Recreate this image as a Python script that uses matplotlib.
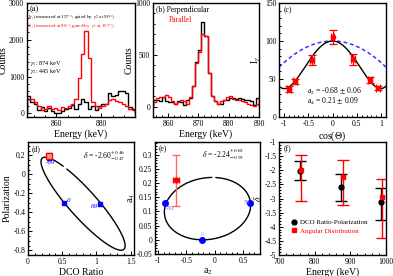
import numpy as np
import matplotlib
matplotlib.use("Agg")
import matplotlib.pyplot as plt
from matplotlib.lines import Line2D

plt.rcParams["font.family"] = ["Liberation Serif", "DejaVu Serif"]
plt.rcParams["mathtext.fontset"] = "stix"

# ---- (a) gated spectra, 1.5 keV bins starting at 847 keV
a_edges_start, a_bin = 847.0, 1.5
a_black = [480, 300, 250, 100, 180, 60, 150, 50, 10, 10, 60, 120, 150, 230, 130, 250,
           400, 300, 120, 200, 100, 200, 250, 250, 550, 480, 500, 600, 600, 550, 180, 120]
a_red = [400, 380, 300, 200, 80, 120, 200, 130, 150, 100, 180, 150, 200, 250, 380, 950,
         1600, 2250, 1500, 300, 200, 150, 200, 250, 350, 380, 330, 300, 250, 200, 120, 100]

# ---- (b) polarization spectra, 1 keV bins starting at 855 keV
b_start = 855
b_perp = [60, 60, 50, 90, 50, 40, 40, 30, 50, 40, 20, 60, 80, 200, 430, 550, 820, 680,
          320, 100, 50, 30, 30, 60, 60, 80, 80, 70, 80, 70, 60, 60, 50, 20, 80]
b_para = [40, 80, 90, 90, 110, 90, 50, 30, 40, 60, 50, 30, 90, 200, 420, 530, 700, 680,
          320, 100, 50, 30, 50, 60, 90, 100, 70, 60, 60, 50, 40, 30, 20, 10, 30]

# ---- (c) angular distribution
c_cos = [-0.89, -0.77, -0.42, 0.0, 0.42, 0.77, 0.93]
c_int = [37, 47, 75, 105, 76, 49, 38]
c_err = [4, 3.5, 6.5, 9, 7, 4, 3]
c_a2, c_a4 = -0.68, 0.21
c_ref_a2, c_ref_a4 = -0.21, 0.0

# ---- (d) DCO ratio vs polarization
d_center = (0.805, -0.31)
d_u = (0.555, -0.49)
d_v = (0.265, 0.0)
d_gap = 141
d_pts_x = [0.30, 0.52, 1.05]
d_pts_y = [0.17, -0.30, -0.31]
d_pts_lab = ["-69", "0", "69"]
d_exp = (0.30, 0.19, 0.02, 0.03)

# ---- (e) a2 vs a4
e_center = (-0.125, 0.11)
e_u = (0.755, 0.0)
e_v = (0.085, 0.11)
e_gap = 88
e_pts_x = [-0.88, 0.63, -0.22]
e_pts_y = [0.13, 0.13, 0.0]
e_pts_lab = ["-50", "50", "0"]
e_exp = (-0.68, 0.21, 0.06, 0.09)

# ---- (f) mixing ratio vs energy
f_e_dco = [758, 875, 985]
f_d_dco = [-2.04, -2.61, -3.11]
f_dco_up = [0.38, 0.46, 0.48]
f_dco_lo = [0.32, 0.49, 0.66]
f_e_ang = [763, 879, 988]
f_d_ang = [-1.98, -2.24, -2.93]
f_ang_up = [0.51, 0.62, 0.61]
f_ang_lo = [1.12, 0.98, 1.46]

tick_fs = 5.5
lab_fs = 7

W, H = 393, 276
fig = plt.figure(figsize=(W / 100, H / 100), dpi=100)


def px_axes(l, t, r, b):
    return fig.add_axes([l / W, (H - b) / H, (r - l) / W, (b - t) / H])


def style(ax):
    ax.tick_params(direction="in", which="both", labelsize=tick_fs, length=3, width=0.7, pad=2)
    ax.tick_params(which="minor", length=1.5)
    ax.tick_params(axis="x", pad=2.5)
    ax.minorticks_on()
    for s in ax.spines.values():
        s.set_linewidth(1.0)


def ellipse(center, u, v, gap):
    t = np.radians(np.linspace(gap + 3, gap + 357, 400))
    x = center[0] + u[0] * np.cos(t) + v[0] * np.sin(t)
    y = center[1] + u[1] * np.cos(t) + v[1] * np.sin(t)
    return x, y


# (a)
ax = px_axes(27, 3, 135, 117)
edges = a_edges_start + a_bin * np.arange(len(a_red) + 1)
ax.stairs(a_black, edges, color="black", lw=1.0)
ax.stairs(a_red, edges, color="red", lw=1.0)
ax.set_xlim(847, 895)
ax.set_ylim(-100, 3000)
ax.set_xticks([860, 880])
ax.set_yticks([0, 1000, 2000, 3000])
style(ax)
ax.set_xlabel("Energy (keV)", fontsize=lab_fs, labelpad=1)
ax.set_ylabel("Counts", fontsize=lab_fs, labelpad=1)
ax.text(0.02, 0.985, "(a)", transform=ax.transAxes, fontsize=6, va="top")
ax.text(0.01, 0.87, r"I$_{\gamma_1}$ (measured at 157 °; gated by  $\gamma_2$ at 90 °)",
        transform=ax.transAxes, fontsize=3.6, va="center")
ax.text(0.01, 0.79, r"I$_{\gamma_1}$ (measured at 90 °; gated by  $\gamma_1$ at 157 °)",
        transform=ax.transAxes, fontsize=3.6, va="center", color="red")
ax.text(0.03, 0.47, r"$\gamma_1$: 874 keV", transform=ax.transAxes, fontsize=4.5, va="center")
ax.text(0.03, 0.40, r"$\gamma_2$: 445 keV", transform=ax.transAxes, fontsize=4.5, va="center")

# (b)
ax = px_axes(153, 3, 259, 117)
edges = b_start + np.arange(len(b_perp) + 1)
ax.stairs(b_perp, edges, color="black", lw=1.0)
ax.stairs(b_para, edges, color="red", lw=1.0)
ax.set_xlim(855, 890)
ax.set_ylim(-100, 1000)
ax.set_xticks([860, 870, 880, 890])
ax.set_yticks([0, 500, 1000])
style(ax)
ax.set_xlabel("Energy (keV)", fontsize=lab_fs, labelpad=1)
ax.set_ylabel("Counts", fontsize=lab_fs, labelpad=1)
ax.text(0.03, 0.975, "(b) Perpendicular", transform=ax.transAxes, fontsize=5.5, va="top")
ax.text(0.15, 0.89, "Parallel", transform=ax.transAxes, fontsize=5.5, va="top", color="red")

# (c)
ax = px_axes(279, 3, 386, 117)
xs = np.linspace(-1.1, 1.1, 300)


def w_theta(x, a2, a4):
    p2 = 0.5 * (3 * x ** 2 - 1)
    p4 = (35 * x ** 4 - 30 * x ** 2 + 3) / 8
    return 1 + a2 * p2 + a4 * p4


ax.plot(xs, 100 * w_theta(xs, c_ref_a2, c_ref_a4) / w_theta(0.0, c_ref_a2, c_ref_a4),
        color="#3333ff", lw=1.1, dashes=(2.5, 1.8))
ax.plot(xs, 100 * w_theta(xs, c_a2, c_a4) / w_theta(0.0, c_a2, c_a4), color="black", lw=1.0)
ax.errorbar(c_cos, c_int, yerr=c_err, xerr=0.04, fmt="o", color="red", ms=3, capsize=3,
            elinewidth=0.9, capthick=0.9)
ax.set_xlim(-1.1, 1.1)
ax.set_ylim(0, 150)
ax.set_xticks([-1, -0.5, 0, 0.5, 1])
ax.set_xticklabels(["-1", "-0.5", "0", "0.5", "1"])
ax.set_yticks([0, 50, 100, 150])
style(ax)
ax.set_xlabel(r"cos($\Theta$)", fontsize=lab_fs, labelpad=1)
ax.set_ylabel(r"I$_\gamma$", fontsize=lab_fs, labelpad=1)
ax.text(0.04, 0.975, "(c)", transform=ax.transAxes, fontsize=5.5, va="top")
ax.text(-0.52, 34, r"a$_2$ = -0.68 $\pm$ 0.06", fontsize=5.5, va="center")
ax.text(-0.52, 20, r"a$_4$ = 0.21 $\pm$ 0.09", fontsize=5.5, va="center")

# (d)
ax = px_axes(28, 142, 134, 255)
ex, ey = ellipse(d_center, d_u, d_v, d_gap)
ax.plot(ex, ey, color="black", lw=1.0)
ax.errorbar(d_exp[0], d_exp[1], xerr=d_exp[2], yerr=d_exp[3], fmt="s", color="red",
            mfc="#ff9999", ms=5, capsize=2, elinewidth=0.8)
ax.plot(d_pts_x, d_pts_y, "s", color="blue", ms=3)
ax.text(d_pts_x[0] - 0.04, d_pts_y[0] - 0.06, d_pts_lab[0], color="blue", fontsize=5, style="italic")
ax.text(d_pts_x[1] + 0.04, d_pts_y[1] + 0.01, d_pts_lab[1], color="blue", fontsize=5, style="italic")
ax.text(d_pts_x[2] - 0.14, d_pts_y[2] - 0.05, d_pts_lab[2], color="blue", fontsize=5, style="italic")
ax.set_xlim(0, 1.55)
ax.set_ylim(-0.85, 0.34)
ax.set_xticks([0, 0.5, 1, 1.5])
ax.set_xticklabels(["0", "0.5", "1", "1.5"])
ax.set_yticks([-0.8, -0.6, -0.4, -0.2, 0, 0.2])
ax.set_yticklabels(["-0.8", "-0.6", "-0.4", "-0.2", "0", "0.2"])
style(ax)
ax.set_xlabel("DCO Ratio", fontsize=lab_fs, labelpad=1)
ax.set_ylabel("Polarization", fontsize=lab_fs, labelpad=1)
ax.text(0.03, 0.975, "(d)", transform=ax.transAxes, fontsize=5.5, va="top")
ax.text(0.8, 0.2, r"$\delta$ = -2.60$^{+0.46}_{-0.47}$", fontsize=5.5, va="center")

# (e)
ax = px_axes(155, 142, 260, 254)
ex, ey = ellipse(e_center, e_u, e_v, e_gap)
ax.plot(ex, ey, color="black", lw=1.0)
ax.errorbar(e_exp[0], e_exp[1], yerr=e_exp[3], fmt="none", ecolor="#ff6666",
            capsize=3, elinewidth=1.0)
ax.errorbar(e_exp[0], e_exp[1], xerr=e_exp[2], fmt="o", color="red", ms=3.5,
            capsize=2, elinewidth=1.0)
ax.plot(e_pts_x, e_pts_y, "o", color="blue", ms=4)
ax.text(e_pts_x[0] + 0.02, e_pts_y[0] - 0.02, e_pts_lab[0], color="#6666ff", fontsize=4.5, va="center")
ax.text(e_pts_x[1] - 0.12, e_pts_y[1], e_pts_lab[1], color="#6666ff", fontsize=4.5, va="center")
ax.text(e_pts_x[2], e_pts_y[2] + 0.02, e_pts_lab[2], color="#aaaaff", fontsize=4.5, ha="center", va="center")
ax.set_xlim(-1.05, 0.8)
ax.set_ylim(-0.05, 0.345)
ax.set_xticks([-1, -0.5, 0, 0.5])
ax.set_xticklabels(["-1", "-0.5", "0", "0.5"])
ax.set_yticks([-0.05, 0, 0.05, 0.1, 0.15, 0.2, 0.25, 0.3])
ax.set_yticklabels(["-0.05", "0", "0.05", "0.1", "0.15", "0.2", "0.25", "0.3"])
style(ax)
ax.set_xlabel(r"a$_2$", fontsize=lab_fs, labelpad=1)
ax.set_ylabel(r"a$_4$", fontsize=lab_fs, labelpad=0)
ax.text(0.03, 0.975, "(e)", transform=ax.transAxes, fontsize=5.5, va="top")
ax.text(-0.22, 0.30, r"$\delta$ = -2.24$^{+0.62}_{-0.95}$", fontsize=5.5, va="center")

# (f)
ax = px_axes(279, 142, 386, 255)
ax.errorbar(f_e_dco, f_d_dco, yerr=[f_dco_lo, f_dco_up], fmt="o", color="black", ms=3.5,
            capsize=4, elinewidth=1.0)
ax.errorbar(f_e_ang, f_d_ang, yerr=[f_ang_lo, f_ang_up], fmt="s", color="red", ms=3.5,
            capsize=4, elinewidth=1.0)
ax.set_xlim(700, 1000)
ax.set_ylim(-5, -1)
ax.set_xticks([700, 800, 900, 1000])
ax.set_yticks([-5, -4.5, -4, -3.5, -3, -2.5, -2, -1.5, -1])
ax.set_yticklabels(["-5", "-4.5", "-4", "-3.5", "-3", "-2.5", "-2", "-1.5", "-1"])
style(ax)
ax.set_xlabel("Energy (keV)", fontsize=lab_fs, labelpad=1)
ax.set_ylabel(r"$\delta$", fontsize=lab_fs, labelpad=1)
ax.text(0.04, 0.975, "(f)", transform=ax.transAxes, fontsize=5.5, va="top")
handles = [Line2D([], [], ls="none", marker="o", color="black", ms=3.5),
           Line2D([], [], ls="none", marker="s", color="red", ms=3.5)]
leg = ax.legend(handles, ["DCO Ratio-Polarization", "Angular Distribution"],
                loc="lower left", bbox_to_anchor=(0.07, 0.15), fontsize=5, frameon=False,
                handletextpad=0.3, handlelength=1.0, borderpad=0.1, labelspacing=0.4)
for txt, col in zip(leg.get_texts(), ["black", "red"]):
    txt.set_color(col)

fig.savefig("out.png", dpi=100)
